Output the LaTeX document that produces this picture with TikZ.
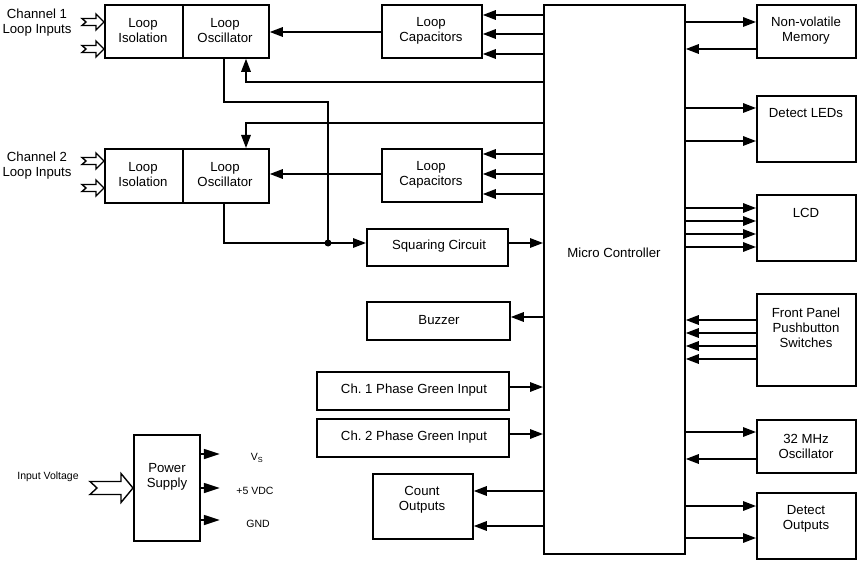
\documentclass[tikz,border=0pt]{standalone}
\usepackage{fontspec}
\setmainfont{Liberation Sans}
\usetikzlibrary{arrows.meta,calc}
\frenchspacing
\newcommand\blk[5]{\node[box, anchor=north west, minimum width={#4-#2}, minimum height={#5-#3}] (#1) at (#2,#3) {};}
\newcommand\harrow[6]{% tip, total length, head length, shaft half, head half, notch
  \draw[hollow] ($(#1)+(-#2,-#4)$) -- ($(#1)+(-#3,-#4)$) -- ($(#1)+(-#3,-#5)$) -- (#1) -- ($(#1)+(-#3,#5)$) -- ($(#1)+(-#3,#4)$) -- ($(#1)+(-#2,#4)$) -- ($(#1)+(-#2+#6,0)$) -- cycle;}
\begin{document}
\begin{tikzpicture}[x=1pt,y=-1pt,
  box/.style={draw, line width=1.8pt, inner sep=0pt},
  ln/.style={line width=1.6pt},
  arr/.style={line width=1.6pt, -{Triangle[length=13pt,width=9.5pt]}},
  txt/.style={font=\fontsize{13.2}{15}\selectfont, align=center, inner sep=0pt},
  small/.style={font=\fontsize{10.5}{12}\selectfont, inner sep=0pt},
  hollow/.style={draw, line width=1.4pt, fill=white, miter limit=10}]
\useasboundingbox (0,0) rectangle (861,561);
% boxes
\blk{iso1}{104}{4}{182}{57}
\blk{osc1}{182}{4}{268}{57}
\blk{cap1}{381}{4}{481}{57}
\blk{iso2}{104}{148}{182}{202}
\blk{osc2}{182}{148}{268}{202}
\blk{cap2}{381}{148}{481}{201}
\blk{sq}{366}{228}{507}{265}
\blk{buz}{366}{301}{509}{339}
\blk{ph1}{316}{371}{508}{409}
\blk{ph2}{316}{418}{508}{456}
\blk{cnt}{372}{473}{472}{538}
\blk{mc}{543}{4}{684}{553}
\blk{nvm}{756}{4}{855}{57}
\blk{led}{756}{95}{855}{161}
\blk{lcd}{756}{194}{855}{260}
\blk{fp}{756}{293}{855}{385}
\blk{osc32}{756}{419}{855}{472}
\blk{dout}{756}{492}{855}{558}
\blk{ps}{133}{434}{199}{540}
% texts
\node[txt] (tiso1) at (143,31) {Loop\\Isolation};
\node[txt] (tosc1) at (225,31) {Loop\\Oscillator};
\node[txt] (tcap1) at (431,31) {Loop\\Capacitors};
\node[txt] (tiso2) at (143,175) {Loop\\Isolation};
\node[txt] (tosc2) at (225,175) {Loop\\Oscillator};
\node[txt] (tcap2) at (431,175) {Loop\\Capacitors};
\node[txt] (tsq) at (439,246) {Squaring Circuit};
\node[txt] (tbuz) at (439,320) {Buzzer};
\node[txt] (tph1) at (414,390) {Ch. 1 Phase Green Input};
\node[txt] (tph2) at (414,437) {Ch. 2 Phase Green Input};
\node[txt] (tcnt) at (422,500) {Count\\Outputs};
\node[txt] (tmc) at (614,253) {Micro Controller};
\node[txt] (tnvm) at (806,31) {Non-volatile\\Memory};
\node[txt] (tled) at (806,113) {Detect LEDs};
\node[txt] (tlcd) at (806,213) {LCD};
\node[txt] (tfp) at (806,328) {Front Panel\\Pushbutton\\Switches};
\node[txt] (tosc32) at (806,446) {32 MHz\\Oscillator};
\node[txt] (tdout) at (806,519) {Detect\\Outputs};
\node[txt] (tps) at (167,477) {Power\\Supply};
\node[txt] (ch1) at (37,23) {Channel 1\\Loop Inputs};
\node[txt] (ch2) at (37,166) {Channel 2\\Loop Inputs};
\node[small] (vin) at (48,477) {Input Voltage};
\node[small] (vs) at (257,458) {V\textsubscript{S}};
\node[small] (v5) at (255,491) {+5 VDC};
\node[small] (gnd) at (258,524) {GND};
% hollow inputs
\coordinate (i1a) at (iso1.west |- 0,22);
\coordinate (i1b) at (iso1.west |- 0,49);
\coordinate (i2a) at (iso2.west |- 0,161);
\coordinate (i2b) at (iso2.west |- 0,188);
\coordinate (ipw) at (ps.west |- 0,488);
\harrow{i1a}{22}{8}{3.5}{8}{4}
\harrow{i1b}{22}{8}{3.5}{8}{4}
\harrow{i2a}{22}{8}{3.5}{8}{4}
\harrow{i2b}{22}{8}{3.5}{8}{4}
\harrow{ipw}{43}{12}{6.5}{14.5}{7}
% channel 1 loop
\draw[arr] (cap1.west |- 0,32) -- (osc1.east |- 0,32);
\foreach \y in {15,34,54} \draw[arr] (mc.west |- 0,\y) -- (cap1.east |- 0,\y);
\draw[arr] (mc.west |- 0,82) -| (osc1.south -| 246,0);
\coordinate (dot) at (328,243);
\draw[ln] (osc1.south -| 224,0) |- (328,102) -- (dot);
% channel 2 loop
\draw[arr] (mc.west |- 0,123) -| (osc2.north -| 246,0);
\draw[arr] (cap2.west |- 0,174) -- (osc2.east |- 0,174);
\foreach \y in {154,174,194} \draw[arr] (mc.west |- 0,\y) -- (cap2.east |- 0,\y);
\draw[arr] (osc2.south -| 224,0) |- (sq.west |- 0,243);
\fill (dot) circle (3.5);
\draw[arr] (sq.east |- 0,243) -- (mc.west |- 0,243);
% left side of mc
\draw[arr] (mc.west |- 0,317) -- (buz.east |- 0,317);
\draw[arr] (ph1.east |- 0,387) -- (mc.west |- 0,387);
\draw[arr] (ph2.east |- 0,434) -- (mc.west |- 0,434);
\foreach \y in {491,526} \draw[arr] (mc.west |- 0,\y) -- (cnt.east |- 0,\y);
% right side of mc
\draw[arr] (mc.east |- 0,22) -- (nvm.west |- 0,22);
\draw[arr] (nvm.west |- 0,49) -- (mc.east |- 0,49);
\foreach \y in {108,141} \draw[arr] (mc.east |- 0,\y) -- (led.west |- 0,\y);
\foreach \y in {208,221,234,247} \draw[arr] (mc.east |- 0,\y) -- (lcd.west |- 0,\y);
\foreach \y in {320,333,346,359} \draw[arr] (fp.west |- 0,\y) -- (mc.east |- 0,\y);
\draw[arr] (mc.east |- 0,432) -- (osc32.west |- 0,432);
\draw[arr] (osc32.west |- 0,459) -- (mc.east |- 0,459);
\foreach \y in {506,538} \draw[arr] (mc.east |- 0,\y) -- (dout.west |- 0,\y);
% power supply outputs
\foreach \y in {454,488,520} \draw[line width=1.6pt, -{Triangle[length=16pt,width=10pt]}] (ps.east |- 0,\y) -- ++(19,0);
\end{tikzpicture}
\end{document}
